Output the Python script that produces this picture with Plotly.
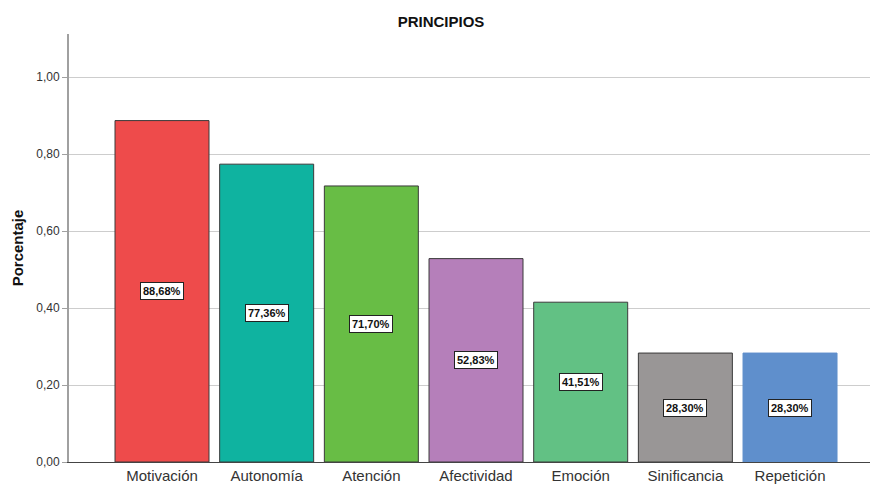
import plotly.graph_objects as go

categories = ["Motivación", "Autonomía", "Atención", "Afectividad", "Emoción", "Sinificancia", "Repetición"]
values = [0.8868, 0.7736, 0.7170, 0.5283, 0.4151, 0.2830, 0.2830]
colors = ["#ee4b4b", "#0fb3a0", "#68bd45", "#b57fba", "#62c184", "#999696", "#5f8fcc"]
outline = ["#3a3a3a", "#3a3a3a", "#3a3a3a", "#3a3a3a", "#3a3a3a", "#3a3a3a", "#5f8fcc"]
ytickvals = [0.0, 0.2, 0.4, 0.6, 0.8, 1.0]

labels = [f"{v*100:.2f}".replace(".", ",") + "%" for v in values]

fig = go.Figure()
fig.add_trace(go.Bar(
    x=categories, y=values,
    marker=dict(color=colors, line=dict(color=outline, width=1)),
    showlegend=False, hoverinfo="skip",
))

for c, v, t in zip(categories, values, labels):
    fig.add_annotation(
        x=c, y=v / 2, text=f"<b>{t}</b>", showarrow=False,
        font=dict(family="Liberation Sans, Arial", size=11, color="#111"),
        bgcolor="white", bordercolor="#222", borderwidth=1, borderpad=2,
    )

fig.update_layout(
    width=870, height=485,
    margin=dict(l=69, r=0, t=34, b=23),
    paper_bgcolor="white", plot_bgcolor="white",
    separators=",.",
    bargap=0.102,
    font=dict(family="Liberation Sans, Arial", color="#222"),
    title=dict(text="<b>PRINCIPIOS</b>", x=441 / 870, xanchor="center",
               y=1 - 22 / 485, yanchor="middle",
               font=dict(size=15, color="#111")),
    xaxis=dict(
        type="category", range=[-0.8885, 6.764],
        showline=True, linecolor="#444", linewidth=1,
        ticks="", showgrid=False, automargin=False,
        tickfont=dict(size=15, color="#333"),
    ),
    yaxis=dict(
        range=[0, 1.1117], tickvals=ytickvals, tickformat=".2f",
        showline=True, linecolor="#a0a0a0", linewidth=2,
        ticks="outside", ticklen=5, tickcolor="#a0a0a0",
        showgrid=True, gridcolor="#cdcdcd", gridwidth=1,
        zeroline=False, automargin=False,
        tickfont=dict(size=12, color="#333"),
        title=dict(text="<b>Porcentaje</b>", font=dict(size=15, color="#111"), standoff=9),
    ),
)

fig.write_html("out.html", config={"displayModeBar": False},
               post_script="document.body.style.margin='0';document.body.style.overflow='hidden';")
